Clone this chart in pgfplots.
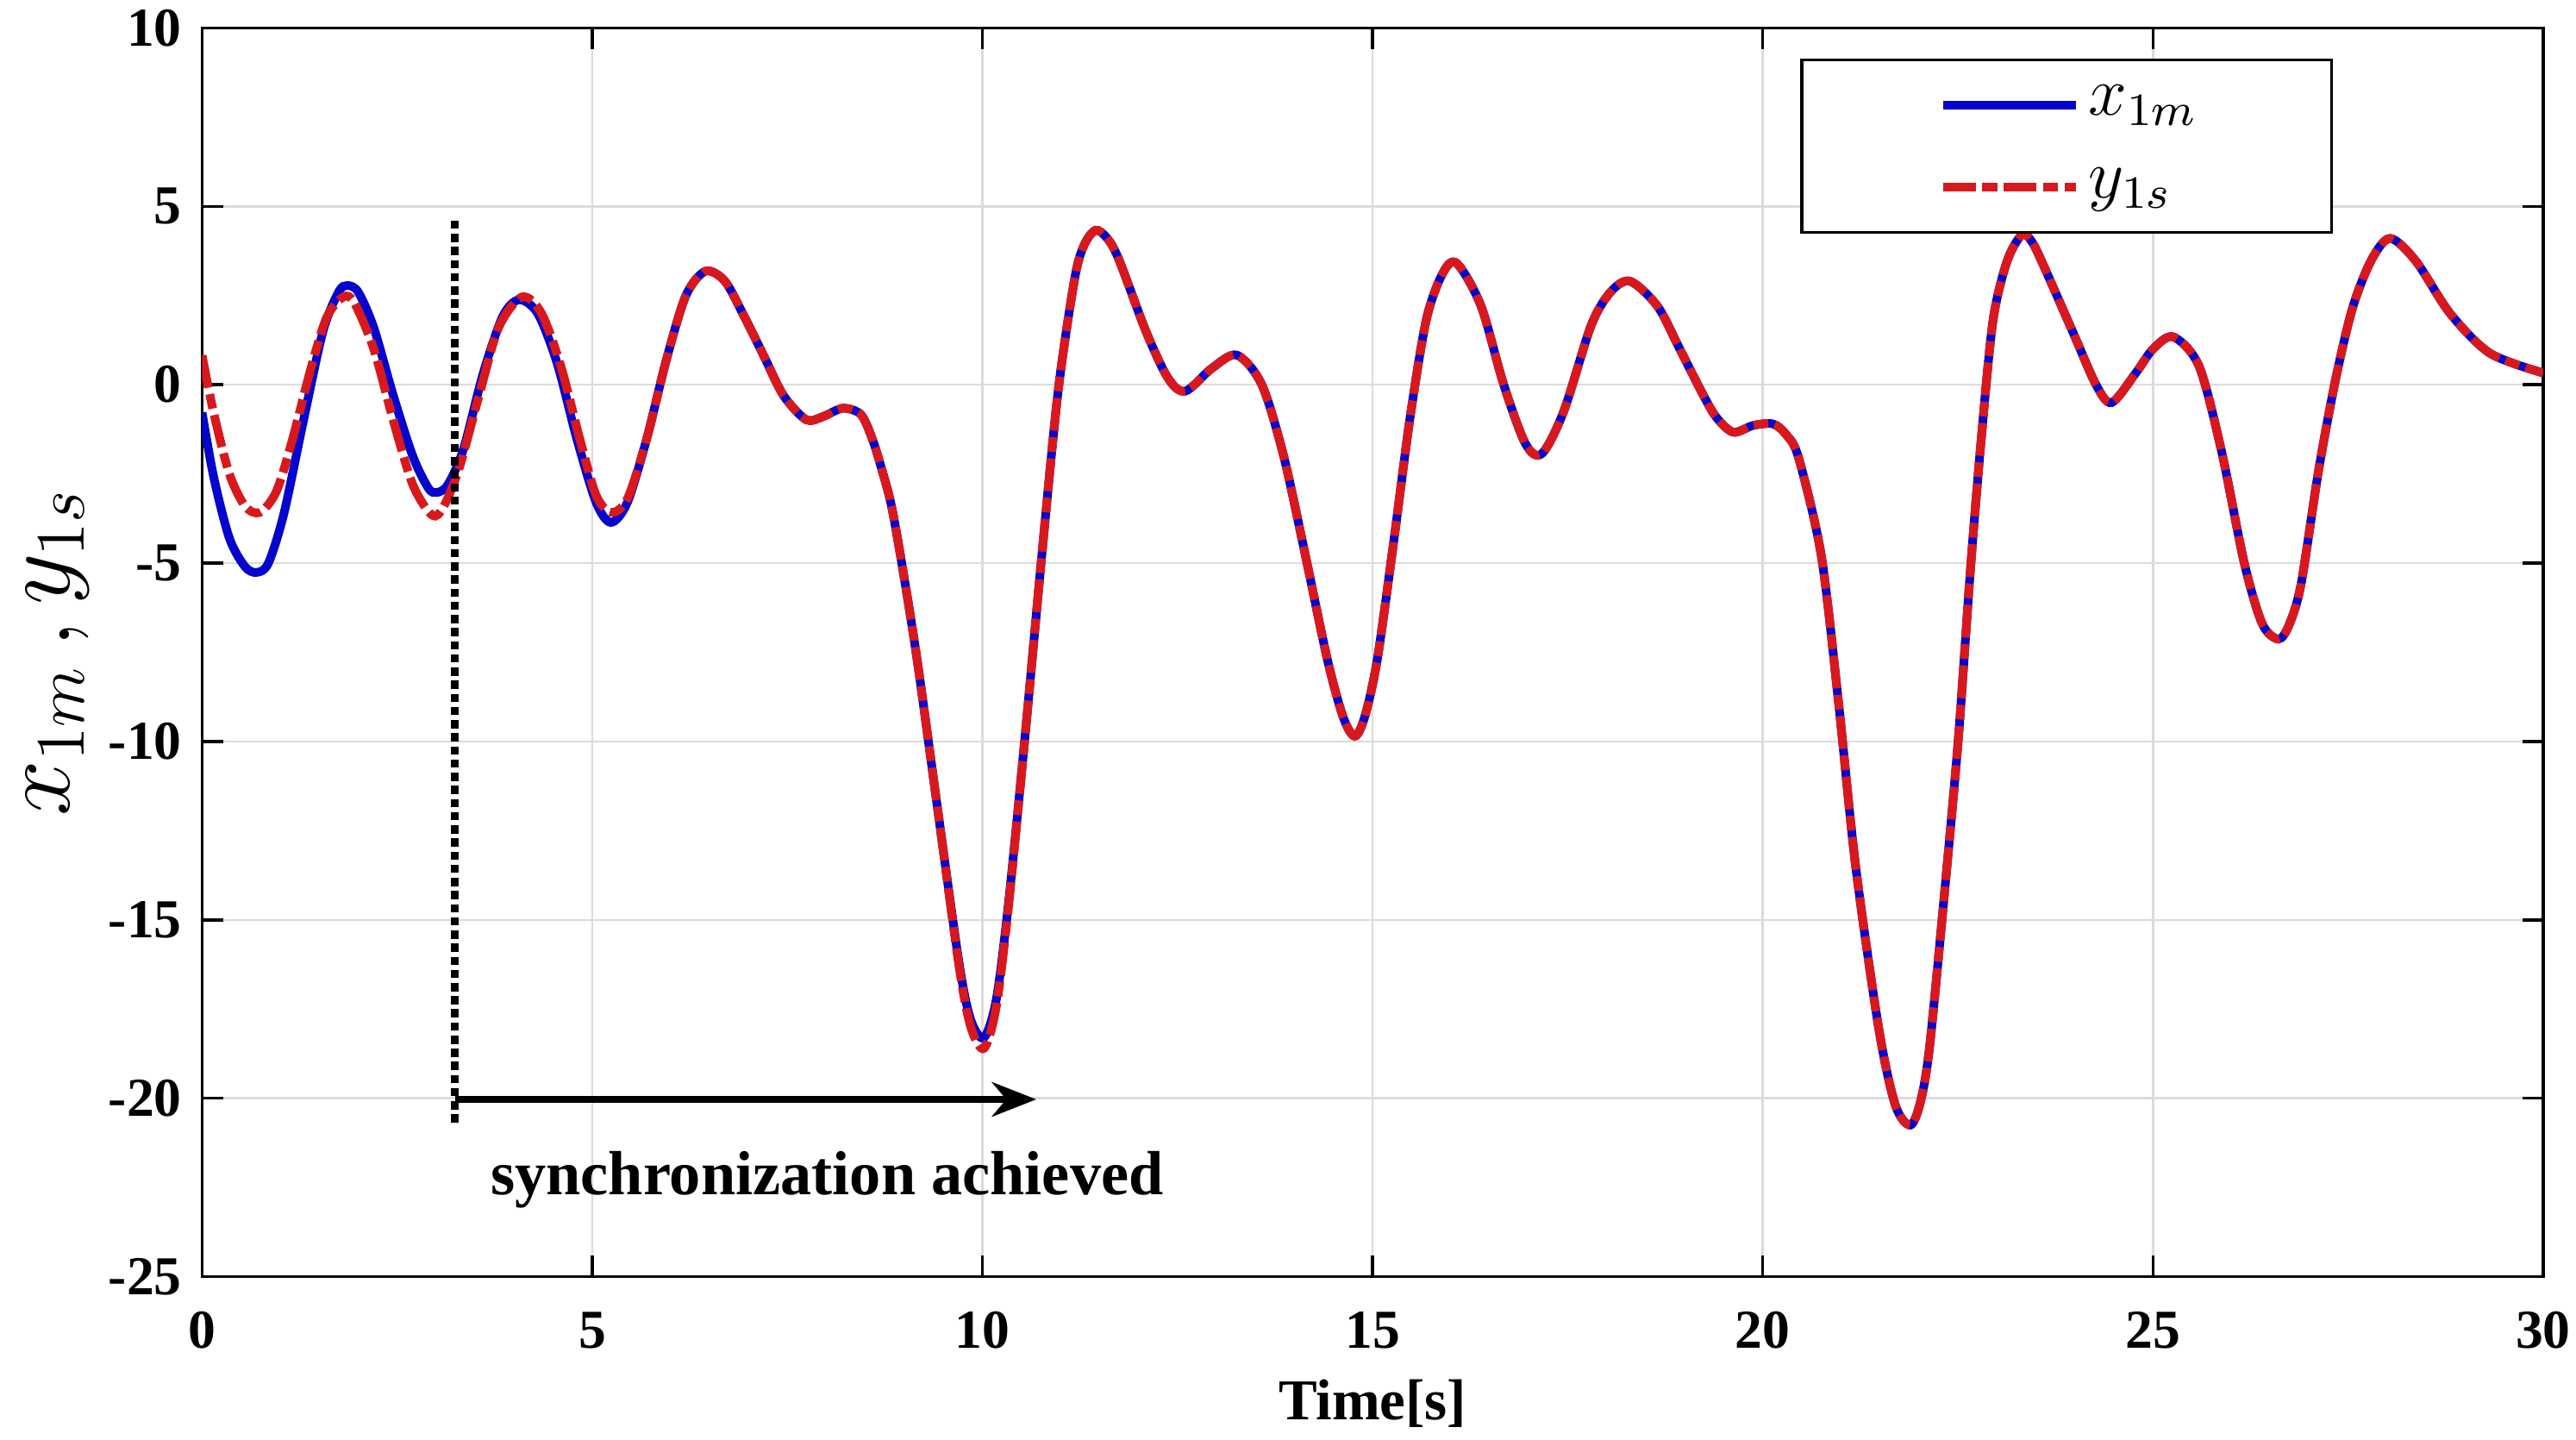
\documentclass[border=0pt]{standalone}
\usepackage[no-math]{fontspec}
\setmainfont{Liberation Serif}
\usepackage{pgfplots}
\pgfplotsset{compat=1.18}
\usetikzlibrary{arrows.meta}
\definecolor{cblue}{RGB}{5,5,205}
\definecolor{cred}{RGB}{215,25,30}
\begin{document}
\begin{tikzpicture}
\useasboundingbox (-12.3mm,-9.9mm) rectangle (144.5mm,77.7mm);
\begin{axis}[
  scale only axis,
  width=142.5mm, height=76mm,
  xmin=0, xmax=30, ymin=-25, ymax=10,
  xtick={0,5,...,30}, ytick={-25,-20,...,10},
  grid=major,
  major grid style={black!14, line width=0.4pt},
  axis line style={line width=0.5pt},
  tick style={black, line width=0.5pt},
  major tick length=1.28mm,
  /pgf/number format/assume math mode=true,
  ticklabel style={font=\bfseries\fontsize{9.5}{11}\selectfont},
  xticklabel style={yshift=-0.9mm},
  xlabel={Time[s]},
  xlabel style={font=\bfseries\fontsize{10}{12}\selectfont, at={(axis description cs:0.5,0)}, anchor=base, yshift=-8.7mm},
  ylabel={$x_{1m}\,{,}\,y_{1s}$},
  ylabel style={font=\fontsize{17.5}{19}\selectfont, at={(axis description cs:-0.048,0.5)}, anchor=south, rotate=0, inner sep=0pt},
  legend style={at={(axis cs:20.48,9.15)}, anchor=north west, draw=black, line width=0.5pt, inner xsep=0pt, inner ysep=0.25mm, row sep=0pt, nodes={inner sep=0pt}, font=\fontsize{12}{14}\selectfont, legend cell align=left},
  legend image code/.code={\path[draw=none,fill=none] (-8.6mm,-2.5mm) rectangle (0mm,2.5mm); \draw[#1] (0mm,0mm) -- (8.1mm,0mm);},
]
\addplot[cblue, line width=1.5pt, smooth, tension=0.5] coordinates {
(0,-0.78) (0.15,-2.6) (0.35,-4.3) (0.55,-5.1) (0.70,-5.26) (0.85,-5.0) (1.05,-3.6) (1.3,-1.0) (1.55,1.5) (1.75,2.6) (1.86,2.78) (2.0,2.6) (2.2,1.6) (2.45,-0.3) (2.7,-2.0) (2.9,-2.9) (3.01,-3.02) (3.15,-2.8) (3.35,-1.8) (3.6,0.3) (3.85,1.9) (4.06,2.38) (4.3,2.0) (4.55,0.6) (4.8,-1.5) (5.05,-3.3) (5.24,-3.86) (5.45,-3.3) (5.7,-1.5) (5.95,0.7) (6.2,2.5) (6.45,3.18) (6.7,2.9) (6.95,1.9) (7.2,0.8) (7.45,-0.3) (7.74,-0.98) (7.95,-0.9) (8.21,-0.66) (8.44,-0.83) (8.58,-1.47) (8.7,-2.3) (8.86,-3.68) (9.14,-7.37) (9.42,-11.8) (9.70,-16.2) (9.85,-17.8) (10.02,-18.3) (10.18,-17.2) (10.34,-14.4) (10.55,-9.76) (10.76,-4.8) (10.97,-0.18) (11.18,2.95) (11.3,3.9) (11.45,4.33) (11.6,4.1) (11.75,3.5) (12.1,1.47) (12.38,0.18) (12.6,-0.18) (12.94,0.46) (13.26,0.83) (13.58,0.0) (13.86,-2.0) (14.14,-4.8) (14.42,-7.7) (14.62,-9.3) (14.77,-9.85) (14.9,-9.3) (15.06,-7.7) (15.27,-4.4) (15.48,-0.92) (15.69,1.84) (15.9,3.13) (16.08,3.4) (16.39,2.2) (16.68,0.0) (16.96,-1.66) (17.17,-1.93) (17.45,-0.74) (17.8,1.66) (18.05,2.6) (18.3,2.9) (18.65,2.2) (18.92,1.07) (19.22,-0.22) (19.4,-0.9) (19.62,-1.33) (19.88,-1.14) (20.13,-1.1) (20.3,-1.4) (20.46,-2.06) (20.75,-4.8) (20.97,-8.9) (21.19,-13.5) (21.49,-18.1) (21.7,-20.2) (21.89,-20.75) (22.02,-20.1) (22.14,-18.5) (22.36,-13.5) (22.51,-9.8) (22.66,-5.2) (22.8,-1.5) (22.95,1.8) (23.13,3.46) (23.32,4.2) (23.45,4.0) (23.61,3.28) (23.98,1.44) (24.27,0.0) (24.47,-0.5) (24.78,0.33) (25.0,1.0) (25.26,1.34) (25.59,0.52) (25.88,-1.88) (26.17,-5.0) (26.4,-6.7) (26.61,-7.13) (26.75,-6.7) (26.9,-5.56) (27.12,-2.43) (27.34,0.15) (27.56,2.17) (27.8,3.5) (28.04,4.1) (28.37,3.46) (28.81,1.99) (29.32,0.88) (30.0,0.33)
};
\addlegendentry{\makebox[15.3mm][l]{\hspace{0.5mm}$x_{1m}$}}
\addplot[cred, line width=1.5pt, smooth, tension=0.5, dash pattern={on 2mm off 0.4mm on 0.9mm off 0.4mm}] coordinates {
(0,0.82) (0.15,-0.8) (0.35,-2.5) (0.55,-3.4) (0.74,-3.58) (0.95,-3.0) (1.15,-1.6) (1.4,0.5) (1.6,1.9) (1.81,2.46) (1.95,2.3) (2.2,1.0) (2.45,-1.0) (2.7,-2.8) (2.95,-3.66) (3.1,-3.4) (3.3,-2.3) (3.55,-0.3) (3.8,1.6) (4.1,2.46) (4.35,2.0) (4.6,0.5) (4.85,-1.6) (5.05,-3.1) (5.24,-3.58) (5.45,-3.2) (5.7,-1.5) (5.95,0.7) (6.2,2.5) (6.45,3.18) (6.7,2.9) (6.95,1.9) (7.2,0.8) (7.45,-0.3) (7.74,-0.98) (7.95,-0.9) (8.21,-0.66) (8.44,-0.83) (8.58,-1.47) (8.7,-2.3) (8.86,-3.68) (9.14,-7.37) (9.42,-11.8) (9.70,-16.3) (9.85,-18.0) (10.02,-18.6) (10.18,-17.4) (10.34,-14.5) (10.55,-9.76) (10.76,-4.8) (10.97,-0.18) (11.18,2.95) (11.3,3.9) (11.45,4.33) (11.6,4.1) (11.75,3.5) (12.1,1.47) (12.38,0.18) (12.6,-0.18) (12.94,0.46) (13.26,0.83) (13.58,0.0) (13.86,-2.0) (14.14,-4.8) (14.42,-7.7) (14.62,-9.3) (14.77,-9.85) (14.9,-9.3) (15.06,-7.7) (15.27,-4.4) (15.48,-0.92) (15.69,1.84) (15.9,3.13) (16.08,3.4) (16.39,2.2) (16.68,0.0) (16.96,-1.66) (17.17,-1.93) (17.45,-0.74) (17.8,1.66) (18.05,2.6) (18.3,2.9) (18.65,2.2) (18.92,1.07) (19.22,-0.22) (19.4,-0.9) (19.62,-1.33) (19.88,-1.14) (20.13,-1.1) (20.3,-1.4) (20.46,-2.06) (20.75,-4.8) (20.97,-8.9) (21.19,-13.5) (21.49,-18.1) (21.7,-20.2) (21.89,-20.75) (22.02,-20.1) (22.14,-18.5) (22.36,-13.5) (22.51,-9.8) (22.66,-5.2) (22.8,-1.5) (22.95,1.8) (23.13,3.46) (23.32,4.2) (23.45,4.0) (23.61,3.28) (23.98,1.44) (24.27,0.0) (24.47,-0.5) (24.78,0.33) (25.0,1.0) (25.26,1.34) (25.59,0.52) (25.88,-1.88) (26.17,-5.0) (26.4,-6.7) (26.61,-7.13) (26.75,-6.7) (26.9,-5.56) (27.12,-2.43) (27.34,0.15) (27.56,2.17) (27.8,3.5) (28.04,4.1) (28.37,3.46) (28.81,1.99) (29.32,0.88) (30.0,0.33)
};
\addlegendentry{\makebox[15.3mm][l]{\hspace{0.5mm}$y_{1s}$}}
\draw[black, line width=1.4pt, dash pattern=on 0.5mm off 0.3mm] (axis cs:3.24,4.6) -- (axis cs:3.24,-20.8);
\draw[black, line width=1.2pt, -{Stealth[length=2.7mm,width=2.1mm]}] (axis cs:3.24,-20.03) -- (axis cs:10.69,-20.03);
\node[font=\bfseries\fontsize{10.8}{13}\selectfont, anchor=base] at (axis cs:8.01,-22.69) {synchronization achieved};
\end{axis}
\end{tikzpicture}
\end{document}
